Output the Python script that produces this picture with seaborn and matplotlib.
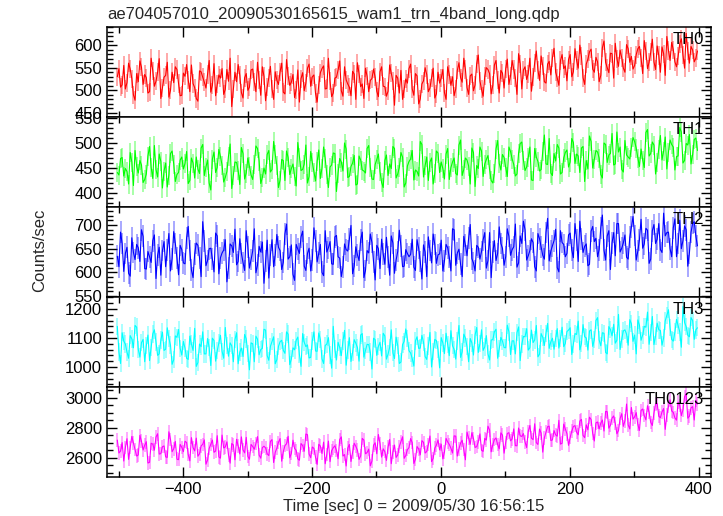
import matplotlib

matplotlib.use("Agg")
import matplotlib.pyplot as plt
from matplotlib.ticker import MultipleLocator
import numpy as np
import pandas as pd
import seaborn as sns

# light curve in 2.5 s steps, stored as two interleaved sets:
# "_a" bins start at -502 s, "_b" bins sit 2.5 s later
t_first = -502
bin_sec = 5

th0_a = [530, 507, 555, 517, 547, 490, 537, 565, 513, 528, 497, 543, 520, 570, 505, 533, 485, 540, 552, 515,
         489, 531, 523, 556, 506, 476, 541, 518, 535, 496, 559, 513, 527, 491, 546, 571, 503, 519, 533, 483,
         537, 507, 547, 497, 523, 552, 477, 528, 503, 541, 513, 560, 492, 532, 518, 484, 545, 526, 499, 549,
         509, 534, 474, 539, 554, 504, 520, 494, 529, 565, 487, 523, 507, 542, 480, 537, 514, 549, 497, 526,
         529, 486, 552, 508, 498, 538, 467, 527, 544, 502, 516, 558, 489, 532, 481, 521, 535, 505, 549, 492,
         516, 546, 480, 535, 530, 503, 561, 518, 546, 491, 536, 512, 578, 502, 531, 546, 492, 556, 522, 544,
         505, 569, 532, 546, 491, 559, 545, 524, 571, 530, 587, 522, 553, 516, 564, 572, 540, 511, 579, 554,
         568, 530, 592, 549, 575, 513, 569, 591, 540, 563, 533, 609, 550, 582, 527, 570, 589, 549, 601, 562,
         547, 579, 597, 537, 586, 562, 613, 546, 577, 596, 533, 588, 606, 563, 575, 614, 549, 587, 597, 563,
         587]
th0_b = [548, 512, 503, 560, 526, 478, 519, 551, 535, 494, 571, 509, 540, 482, 529, 562, 500, 517, 546, 488,
         538, 557, 497, 515, 482, 543, 529, 505, 566, 511, 488, 534, 548, 502, 520, 464, 540, 557, 495, 528,
         500, 545, 518, 562, 489, 531, 507, 553, 480, 522, 541, 496, 568, 511, 535, 501, 474, 539, 516, 558,
         530, 493, 512, 548, 503, 571, 486, 527, 545, 499, 552, 514, 488, 536, 561, 508, 482, 531, 522, 547,
         498, 541, 509, 487, 556, 520, 533, 494, 480, 525, 548, 503, 537, 470, 514, 550, 497, 528, 483, 540,
         527, 495, 552, 511, 488, 544, 528, 571, 506, 532, 499, 559, 521, 487, 550, 537, 511, 566, 494, 538,
         548, 513, 566, 528, 581, 503, 552, 537, 498, 561, 545, 576, 519, 558, 534, 593, 527, 566, 548, 521,
         579, 541, 566, 600, 528, 558, 585, 547, 573, 519, 594, 562, 539, 581, 604, 553, 572, 540, 592, 575,
         555, 592, 571, 610, 548, 584, 563, 598, 540, 581, 619, 566, 590, 552, 603, 578, 626, 560, 589, 571]

th1_a = [441,
         469, 434, 443, 481, 415, 453, 465, 421, 438, 493, 429, 447, 478, 410, 460, 436, 484, 423, 441, 472,
         459, 419, 470, 430, 448, 490, 435, 466, 406, 482, 451, 473, 422, 443, 498, 436, 461, 417, 479, 440,
         453, 427, 494, 464, 431, 438, 485, 447, 477, 411, 467, 425, 471, 449, 434, 501, 445, 458, 420, 483,
         442, 463, 429, 492, 437, 452, 480, 403, 469, 444, 488, 433, 460, 416, 474, 446, 440, 495, 428, 457,
         478, 421, 465, 435, 449, 489, 438, 481, 412, 454, 468, 426, 443, 503, 432, 472, 462, 418, 484, 441,
         449, 478, 427, 462, 439, 496, 435, 470, 454, 490, 413, 449, 484, 458, 475, 425, 440, 505, 446, 471,
         433, 483, 457, 438, 499, 466, 452, 492, 425, 472, 444, 483, 458, 509, 435, 464, 490, 441, 481, 452,
         509, 459, 474, 490, 423, 448, 503, 468, 482, 437, 500, 461, 479, 456, 522, 492, 442, 476, 468, 511,
         490, 453, 466, 521, 474, 502, 438, 488, 466, 512, 482, 497, 446, 474, 522, 465, 496, 458, 507, 485]
th1_b = [436, 471, 449, 418, 462, 485, 440, 456, 427, 474, 451, 495, 432, 463, 444, 412, 479, 458, 437, 466,
         448, 483, 425, 460, 472, 439, 497, 452, 420, 468, 441, 487, 456, 431, 474, 409, 462, 445, 491, 428,
         470, 436, 458, 489, 419, 450, 477, 442, 503, 455, 426, 465, 484, 437, 458, 414, 472, 447, 496, 433,
         461, 424, 486, 450, 469, 411, 456, 479, 440, 462, 500, 431, 453, 475, 418, 466, 444, 489, 452, 427,
         467, 443, 411, 476, 458, 493, 430, 451, 472, 420, 463, 485, 446, 434, 497, 455, 425, 470, 439, 480,
         462, 428, 489, 451, 470, 436, 506, 447, 466, 418, 481, 455, 492, 433, 467, 447, 420, 488, 459, 477,
         451, 492, 468, 434, 480, 502, 445, 471, 426, 489, 463, 447, 516, 457, 440, 479, 497, 438, 470, 486,
         462, 501, 478, 441, 493, 465, 514, 450, 485, 470, 430, 497, 476, 519, 458, 482, 447, 505, 472, 491,
         503, 470, 488, 451, 527, 479, 496, 462, 515, 484, 448, 506, 492, 473, 531, 460, 499, 517, 477, 510]

th2_a = [634, 685, 602, 653, 592, 642, 659, 623, 676, 607, 633, 667, 587, 653, 646, 612, 682, 629, 661, 595,
         648, 618, 697, 605, 639, 657, 591, 666, 625, 651, 601, 677, 631, 647, 580, 660, 642, 616, 671, 621,
         688, 609, 645, 599, 655, 664, 624, 588, 669, 637, 653, 606, 681, 628, 658, 583, 649, 675, 613, 640,
         603, 694, 622, 659, 593, 643, 665, 617, 678, 630, 611, 648, 670, 597, 654, 625, 685, 604, 641, 663,
         584, 650, 670, 617, 632, 677, 598, 644, 655, 613, 640, 638, 611, 669, 623, 658, 591, 646, 681, 619,
         639,
         603, 659, 632, 692, 615, 649, 591, 658, 672, 629, 603, 653, 644, 684, 625, 589, 667, 640, 661, 615,
         692, 636, 654, 611, 677, 708, 626, 646, 663, 603, 671, 636, 684, 624, 656, 691, 601, 663, 633, 679,
         647, 703, 623, 671, 655, 614, 687, 665, 633, 694, 647, 677, 606, 684, 703, 643, 662, 632, 674, 718,
         626, 669, 651, 693, 619, 688, 661, 703, 642, 677, 685, 633, 713, 661, 650, 698, 613, 685, 707, 656]
th2_b = [612, 661, 640, 598, 673, 627, 652, 690, 608, 644, 621, 679, 636, 594, 665, 648, 603, 686, 631, 657,
         620, 673, 646, 589, 662, 631, 707, 614, 650, 628, 683, 597, 641, 669, 610, 656, 691, 623, 640, 604,
         654, 627, 692, 615, 643, 577, 668, 637, 612, 680, 646, 621, 702, 633, 596, 659, 640, 687, 604, 651,
         626, 667, 641, 600, 688, 652, 618, 675, 633, 591, 660, 645, 699, 613, 637, 669, 589, 646, 681, 622,
         657, 608, 639, 674, 594, 662, 626, 689, 612, 648, 633, 670, 604, 651, 586, 643, 675, 620, 659, 637,
         668, 624, 652, 603, 690, 641, 617, 676, 635, 701, 620, 657, 628, 669, 609, 684, 643, 625, 696, 651,
         633, 676, 648, 702, 620, 661, 690, 635, 671, 612, 682, 653, 628, 714, 645, 667, 610, 688, 659, 640,
         683, 631, 669, 708, 642, 660, 617, 697, 672, 648, 721, 626, 688, 662, 635, 703, 651, 679, 628, 695,
         678, 645, 712, 660, 689, 628, 701, 670, 648, 725, 684, 650, 694, 633, 710, 667, 690, 641, 703, 676]

th3_a = [1140, 1012, 1089, 1051, 1108, 1066, 1137, 1034, 1095, 1073, 1022, 1114, 1086, 1045, 1120, 1061, 1099, 1009, 1107, 1129,
         1041, 1065, 1026, 1079, 1133, 1015, 1070, 1045, 1098, 1005, 1091, 1056, 1109, 1030, 1074, 1083, 1018, 1118, 1051, 1036,
         1097, 990, 1080, 1106, 1042, 1064, 1127, 1023, 1088, 1011, 1071, 1092, 1047, 1113, 1027, 1059, 1103, 1002, 1085, 1076,
         1033, 1121, 1054, 1095, 1012, 1079, 1041, 1140, 1024, 1067, 1089, 1006, 1101, 1050, 1082, 1020, 1115, 1057, 1077, 993,
         1094, 1071, 1038, 1107, 1044, 1128, 1029, 1074, 1017, 1088, 1098, 1048, 1003, 1104, 1065, 1085, 1026, 1119, 1053, 1091,
         997,
         1083, 1116, 1039, 1073, 1027, 1143, 1052, 1100, 1018, 1083, 1110, 1050, 1128, 1069, 1045, 1093, 1121, 1030, 1102, 1067,
         1144, 1043, 1090, 1118, 1022, 1105, 1132, 1066, 1084, 1143, 1044, 1102, 1116, 1064, 1099, 1099, 1065, 1137, 1081, 1127,
         1043, 1115, 1158, 1080, 1104, 1058, 1128, 1094, 1170, 1073, 1116, 1045, 1129, 1147, 1092, 1060, 1124, 1113, 1163, 1088,
         1045, 1144, 1110, 1137, 1078, 1174, 1106, 1128, 1075, 1159, 1197, 1095, 1120, 1142, 1068, 1153, 1109, 1170, 1095, 1135]
th3_b = [1052, 1118, 1079, 1030, 1097, 1143, 1061, 1084, 1018, 1110, 1067, 1128, 1040, 1093, 1057, 1135, 1075, 1025, 1102, 1064,
         1088, 1030, 1106, 1057, 1002, 1079, 1121, 1045, 1068, 1099, 1020, 1083, 1054, 1136, 1037, 1073, 1094, 1011, 1065, 1112,
         1046, 1083, 1018, 1096, 1060, 1130, 1039, 1071, 1104, 1025, 1087, 1057, 1121, 1008, 1066, 1092, 1043, 1115, 1070, 1031,
         1090, 1055, 1117, 1028, 1074, 1101, 996, 1062, 1085, 1039, 1126, 1058, 1019, 1094, 1067, 1110, 1034, 1078, 1051, 1099,
         1040, 1085, 1116, 1027, 1068, 1049, 1103, 1012, 1077, 1131, 1056, 1029, 1090, 1064, 1109, 1036, 1072, 1000, 1095, 1060,
         1101, 1046, 1078, 1125, 1061, 1090, 1033, 1113, 1070, 1098, 1041, 1136, 1080, 1057, 1108, 1024, 1094, 1130, 1063, 1089,
         1066, 1121, 1090, 1045, 1138, 1079, 1104, 1058, 1127, 1093, 1035, 1115, 1074, 1150, 1087, 1061, 1132, 1098, 1070, 1122,
         1135, 1079, 1112, 1059, 1146, 1100, 1124, 1071, 1160, 1093, 1118, 1050, 1139, 1107, 1082, 1181, 1096, 1128, 1075, 1149,
         1110, 1162, 1092, 1140, 1189, 1118, 1077, 1151, 1126, 1100, 1178, 1135, 1089, 1164, 1121, 1208, 1139, 1104, 1160, 1128]

th0123_a = [2718, 2645, 2579, 2727, 2669, 2698, 2612, 2749, 2652, 2707, 2570, 2691, 2738, 2625, 2674, 2606, 2773, 2641, 2709, 2588,
            2670, 2710, 2622, 2734, 2646, 2611, 2679, 2719, 2585, 2690, 2637, 2747, 2598, 2666, 2706, 2565, 2686, 2723, 2626, 2653,
            2736, 2591, 2675, 2695, 2618, 2668, 2666, 2615, 2721, 2637, 2703, 2578, 2681, 2743, 2629, 2662, 2593, 2695, 2644, 2754,
            2601, 2663, 2557, 2678, 2704, 2623, 2575, 2667, 2649, 2722, 2612, 2546, 2689, 2638, 2676, 2590, 2729, 2627, 2658, 2579,
            2700, 2755, 2605, 2641, 2671, 2561, 2685, 2619, 2707, 2597, 2654, 2728, 2563, 2675, 2620, 2703, 2642, 2745, 2596, 2684,
            2653,
            2593, 2729, 2689, 2632, 2744, 2660, 2717, 2587, 2732, 2767, 2669, 2706, 2650, 2729, 2810, 2640, 2721, 2688, 2766, 2631,
            2762, 2713, 2792, 2680, 2746, 2761, 2668, 2815, 2721, 2701, 2791, 2638, 2770, 2810, 2719, 2752, 2849, 2697, 2793, 2683,
            2778, 2814, 2753, 2855, 2734, 2786, 2854, 2712, 2838, 2830, 2778, 2906, 2816, 2878, 2760, 2861, 2809, 2957, 2792, 2857,
            2900, 2782, 2924, 2852, 2902, 2815, 2957, 2876, 2905, 2789, 2941, 2911, 2865, 2969, 2880, 3006, 2863, 2932, 2851, 2957]
th0123_b = [2632, 2701, 2668, 2590, 2742, 2655, 2619, 2710, 2684, 2566, 2697, 2651, 2760, 2628, 2679, 2603, 2722, 2660, 2591, 2689,
            2641, 2702, 2580, 2668, 2731, 2627, 2690, 2558, 2662, 2718, 2645, 2606, 2751, 2672, 2620, 2695, 2587, 2680, 2739, 2633,
            2610, 2689, 2657, 2741, 2598, 2677, 2627, 2709, 2569, 2664, 2728, 2640, 2693, 2601, 2717, 2650, 2584, 2682, 2758, 2625,
            2672, 2604, 2690, 2629, 2561, 2711, 2648, 2680, 2594, 2739, 2622, 2665, 2576, 2697, 2651, 2613, 2718, 2635, 2547, 2684,
            2627, 2696, 2660, 2583, 2722, 2639, 2603, 2676, 2740, 2615, 2668, 2701, 2590, 2659, 2714, 2632, 2688, 2575, 2665, 2719,
            2691, 2638, 2705, 2664, 2746, 2612, 2698, 2655, 2771, 2690, 2728, 2674, 2759, 2643, 2718, 2785, 2687, 2732, 2660, 2751,
            2703, 2767, 2725, 2681, 2798, 2742, 2706, 2775, 2730, 2826, 2689, 2764, 2733, 2807, 2715, 2781, 2744, 2691, 2824, 2760,
            2735, 2808, 2770, 2844, 2749, 2819, 2870, 2761, 2832, 2792, 2851, 2908, 2797, 2864, 2829, 2781, 2893, 2846, 2818, 2934,
            2872, 2821, 2915, 2880, 2946, 2835, 2898, 2961, 2866, 2927, 2884, 2985, 2902, 2850, 2948, 2919, 3024, 2876, 2940, 2981]

bands = ["TH0", "TH1", "TH2", "TH3", "TH0123"]
rates_a = [th0_a, th1_a, th2_a, th3_a, th0123_a]
rates_b = [th0_b, th1_b, th2_b, th3_b, th0123_b]
# 1-sigma error per bin (roughly constant in each band)
errors = [20, 19, 23, 30, 45]
colors = ["#ff0000", "#00ff00", "#0000ff", "#00ffff", "#ff00ff"]
ylims = [(441, 640), (372, 552), (548, 738), (931, 1241), (2473, 3070)]
major_step = [50, 50, 50, 100, 200]
minor_step = [10, 10, 10, 20, 50]

sns.set_style("ticks")
plt.rcParams["font.family"] = ["Liberation Sans", "DejaVu Sans"]

time_a = t_first + bin_sec * np.arange(len(th0_a))
time_b = t_first + bin_sec / 2 + bin_sec * np.arange(len(th0_b))
fig = plt.figure(figsize=(7.23, 5.16), dpi=100)

panel_h = 90 / 516
for k, name in enumerate(bands):
    df = pd.concat([pd.DataFrame({"time": time_a, "rate": rates_a[k]}),
                    pd.DataFrame({"time": time_b, "rate": rates_b[k]})])
    df = df.sort_values("time")
    bottom = 1 - (117 + 90 * k) / 516
    ax = fig.add_axes([107 / 723, bottom, 604 / 723, panel_h])
    # error bars in lighter colour, then the curve on top
    ax.errorbar(df["time"], df["rate"], yerr=errors[k], fmt="none",
                ecolor=colors[k], alpha=0.4, elinewidth=1.2)
    sns.lineplot(data=df, x="time", y="rate", ax=ax, color=colors[k],
                 lw=0.8, estimator=None, sort=False)
    ax.set_xlim(-518, 419)
    ax.set_ylim(*ylims[k])
    ax.xaxis.set_major_locator(MultipleLocator(200))
    ax.xaxis.set_minor_locator(MultipleLocator(100))
    ax.yaxis.set_major_locator(MultipleLocator(major_step[k]))
    ax.yaxis.set_minor_locator(MultipleLocator(minor_step[k]))
    ax.tick_params(which="both", direction="in", top=True, right=True, width=1,
                   labelsize=12, colors="black")
    ax.tick_params(which="major", length=7)
    ax.tick_params(which="minor", length=4)
    for sp in ax.spines.values():
        sp.set_color("black")
        sp.set_linewidth(1.1)
    ax.set_xlabel("")
    ax.set_ylabel("")
    if k < len(bands) - 1:
        ax.tick_params(labelbottom=False)
    ax.text(0.988, 0.95, name, transform=ax.transAxes, ha="right", va="top",
            fontsize=12, color="black", zorder=5)

fig.text(107 / 723, 1 - 14 / 516, "ae704057010_20090530165615_wam1_trn_4band_long.qdp",
         ha="left", va="center", fontsize=12)
fig.text(40 / 723, 1 - 250 / 516, "Counts/sec", rotation=90, ha="center",
         va="center", fontsize=12)
fig.text(414 / 723, 1 - 507 / 516, "Time [sec] 0 = 2009/05/30 16:56:15",
         ha="center", va="center", fontsize=12)

fig.savefig("out.png", dpi=100)
